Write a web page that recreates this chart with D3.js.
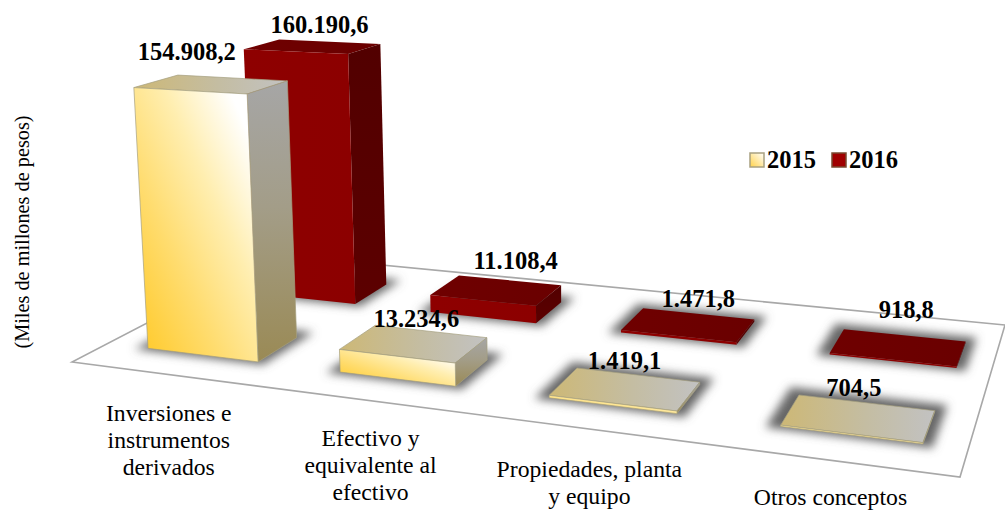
<!DOCTYPE html>
<html>
<head>
<meta charset="utf-8">
<title>Activos</title>
<script src="https://cdn.jsdelivr.net/npm/d3@7"></script>
<style>
    body { margin: 0; background: #fff; }
    text { font-family: "Liberation Serif", serif; fill: #000; }
</style>
</head>
<body>
<div id="container"></div>
<script>

// Datos
const categorias = [
    ["Inversiones e", "instrumentos", "derivados"],
    ["Efectivo y", "equivalente al", "efectivo"],
    ["Propiedades, planta", "y equipo"],
    ["Otros conceptos"]
];
const anios = ["2015", "2016"];
const valores2015 = [154908.2, 13234.6, 1419.1, 704.5];
const valores2016 = [160190.6, 11108.4, 1471.8, 918.8];
const etiquetas2015 = ["154.908,2", "13.234,6", "1.419,1", "704,5"];
const etiquetas2016 = ["160.190,6", "11.108,4", "1.471,8", "918,8"];
const tituloEje = "(Miles de millones de pesos)";

const width = 1005;
const height = 510;

// Esquinas del piso en pantalla: frente izq, frente der, fondo der, fondo izq
const piso = [[72, 362], [960, 477], [1005, 325], [278, 255]];
// Punto de fuga de las verticales (muy por debajo del grafico)
const fuga = [588, 8450];

// Homografia cuadrado unidad -> piso
function homografia(p) {
    const [[x0, y0], [x1, y1], [x2, y2], [x3, y3]] = p;
    const dx1 = x1 - x2, dx2 = x3 - x2, sx = x0 - x1 + x2 - x3;
    const dy1 = y1 - y2, dy2 = y3 - y2, sy = y0 - y1 + y2 - y3;
    const det = dx1 * dy2 - dx2 * dy1;
    const g = (sx * dy2 - dx2 * sy) / det;
    const h = (dx1 * sy - sx * dy1) / det;
    return {
        a: x1 - x0 + g * x1, b: x3 - x0 + h * x3, c: x0,
        d: y1 - y0 + g * y1, e: y3 - y0 + h * y3, f: y0,
        g: g, h: h
    };
}
const H = homografia(piso);

// Escalas
const escalaX = d3.scaleBand().domain(d3.range(categorias.length))
    .range([0, 1.0166]).paddingInner(0.435).paddingOuter(0.2386);
const escalaZ = d3.scaleBand().domain(anios)
    .range([0, 0.972]).paddingInner(0.612).paddingOuter(0.298);
const escalaAltura = d3.scaleLinear().domain([0, 160190.6]).range([0, -0.033]);

// Proyeccion 3D -> pantalla
function proyectar(u, v, valor) {
    const t = escalaAltura(valor);
    const w = H.g * u + H.h * v + 1 + t;
    return [
        (H.a * u + H.b * v + H.c + t * fuga[0]) / w,
        (H.d * u + H.e * v + H.f + t * fuga[1]) / w
    ];
}

const svg = d3.select("#container").append("svg")
    .attr("width", width)
    .attr("height", height);

const defs = svg.append("defs");

function gradiente(id, x1, y1, x2, y2, paradas) {
    const g = defs.append("linearGradient").attr("id", id)
        .attr("x1", x1).attr("y1", y1).attr("x2", x2).attr("y2", y2);
    paradas.forEach(p => g.append("stop").attr("offset", p[0]).attr("stop-color", p[1]));
}
gradiente("frente2015", 0, 1, 1, 0, [[0, "#ffc71f"], [0.35, "#ffdc6e"], [0.62, "#ffeeb0"], [0.88, "#ffffff"], [1, "#ffffff"]]);
gradiente("lado2015", 0, 0, 0, 1, [[0, "#a6a6a6"], [0.45, "#a39d88"], [1, "#9a8a55"]]);
gradiente("tope2015", 0, 0, 1, 0, [[0, "#cdb876"], [0.55, "#c4bda2"], [1, "#c2c2c2"]]);
gradiente("frente2016", 0, 0, 1, 0, [[0, "#8e0000"], [1, "#8c0000"]]);
gradiente("lado2016", 0, 0, 0, 1, [[0, "#520000"], [1, "#5c0000"]]);
gradiente("tope2016", 0, 0, 1, 0, [[0, "#6f0000"], [1, "#6a0000"]]);
gradiente("leyenda2015", 0, 1, 1, 0, [[0, "#ffd24a"], [1, "#ffffff"]]);

defs.append("filter").attr("id", "sombra")
    .attr("x", "-40%").attr("y", "-150%").attr("width", "180%").attr("height", "400%")
    .append("feGaussianBlur").attr("stdDeviation", 5);

const puntos = ps => ps.map(p => p.join(",")).join(" ");

// Piso
svg.append("polygon")
    .attr("points", puntos(piso))
    .attr("fill", "#fff")
    .attr("stroke", "#a8a8a8")
    .attr("stroke-width", 1.6);

// Barras: primero las de atras
const series = [
    { anio: "2016", valores: valores2016, etiquetas: etiquetas2016, desfase: 0.006, ajuste: [[-10.5, -8.6], [5.5, -10.5], [0, -6.5], [2.5, -16.5]] },
    { anio: "2015", valores: valores2015, etiquetas: etiquetas2015, desfase: 0, ajuste: [[-45, -18], [-14, -4], [-13, -6], [-12, -7]] }
];
// La primera categoria se ve un poco mas ancha en el original
const ensanche = [0.0035, 0, 0, 0];

series.forEach(s => {
    const grupo = svg.append("g").attr("class", "serie" + s.anio);
    const barras = grupo.selectAll("g").data(s.valores).enter().append("g");

    const u0 = i => escalaX(i) + s.desfase - ensanche[i];
    const u1 = i => escalaX(i) + s.desfase + escalaX.bandwidth() + ensanche[i];
    const v0 = escalaZ(s.anio);
    const v1 = v0 + escalaZ.bandwidth();
    const borde = s.anio === "2015" ? "#a59f80" : "none";

    // Sombra sobre el piso
    barras.append("polygon")
        .attr("points", (d, i) => puntos([
            proyectar(u0(i) - 0.014, v0 - 0.015, 0),
            proyectar(u1(i) + 0.01, v0 - 0.015, 0),
            proyectar(u1(i) + 0.01, v1 + 0.05, 0),
            proyectar(u0(i) - 0.014, v1 + 0.05, 0)
        ]))
        .attr("fill", "#666")
        .attr("filter", "url(#sombra)");

    // Cara superior
    barras.append("polygon")
        .attr("points", (d, i) => puntos([
            proyectar(u0(i), v0, d), proyectar(u1(i), v0, d),
            proyectar(u1(i), v1, d), proyectar(u0(i), v1, d)
        ]))
        .attr("fill", `url(#tope${s.anio})`)
        .attr("stroke", borde).attr("stroke-width", 0.7);

    // Cara lateral
    barras.append("polygon")
        .attr("points", (d, i) => puntos([
            proyectar(u1(i), v0, d), proyectar(u1(i), v1, d),
            proyectar(u1(i), v1, 0), proyectar(u1(i), v0, 0)
        ]))
        .attr("fill", `url(#lado${s.anio})`)
        .attr("stroke", borde).attr("stroke-width", 0.7);

    // Cara frontal
    barras.append("polygon")
        .attr("points", (d, i) => puntos([
            proyectar(u0(i), v0, d), proyectar(u1(i), v0, d),
            proyectar(u1(i), v0, 0), proyectar(u0(i), v0, 0)
        ]))
        .attr("fill", `url(#frente${s.anio})`)
        .attr("stroke", borde).attr("stroke-width", 0.7);
});

// Etiquetas de valores (encima de todo)
series.forEach(s => {
    const ancla = (d, i) => proyectar(escalaX(i) + escalaX.bandwidth() / 2, escalaZ(s.anio) + escalaZ.bandwidth(), d);
    svg.append("g").selectAll("text").data(s.valores).enter().append("text")
        .attr("x", (d, i) => ancla(d, i)[0] + s.ajuste[i][0] + 830 * s.desfase)
        .attr("y", (d, i) => ancla(d, i)[1] + s.ajuste[i][1])
        .attr("text-anchor", "middle")
        .attr("font-size", 24.5)
        .attr("font-weight", "bold")
        .text((d, i) => s.etiquetas[i]);
});

// Categorias
const ajusteCategorias = [[0, 0], [1.5, 0], [-1.5, 2], [-7.5, -2]];
const lineas = svg.append("g").selectAll("text").data(categorias).enter().append("text")
    .attr("text-anchor", "middle")
    .attr("font-size", 23.7);
lineas.selectAll("tspan").data((d, i) => d.map((t, j) => {
        const p = proyectar(escalaX(i) + escalaX.bandwidth() / 2, 0, 0);
        return { t: t, x: p[0] + ajusteCategorias[i][0], y: p[1] + 46 + ajusteCategorias[i][1] + j * 27 };
    })).enter().append("tspan")
    .attr("x", d => d.x)
    .attr("y", d => d.y)
    .text(d => d.t);

// Titulo del eje
svg.append("text")
    .attr("transform", "translate(29,232) rotate(-90)")
    .attr("text-anchor", "middle")
    .attr("font-size", 20.3)
    .text(tituloEje);

// Leyenda
const leyenda = svg.append("g").selectAll("g").data(anios).enter().append("g")
    .attr("transform", (d, i) => `translate(${750 + i * 82},153)`);
leyenda.append("rect")
    .attr("width", 14).attr("height", 14)
    .attr("fill", d => d === "2015" ? "url(#leyenda2015)" : "#a00000")
    .attr("stroke", d => d === "2015" ? "#a8a080" : "#7a4a30")
    .attr("stroke-width", 1.5);
leyenda.append("text")
    .attr("x", 17).attr("y", 15)
    .attr("font-size", 24.5)
    .attr("font-weight", "bold")
    .text(d => d);

</script>
</body>
</html>
